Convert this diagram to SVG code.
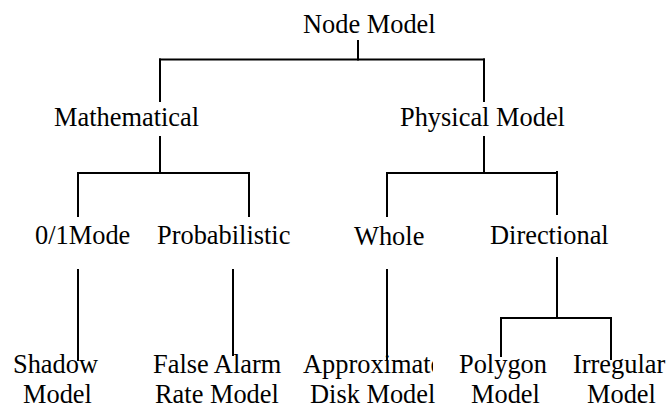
<svg xmlns="http://www.w3.org/2000/svg" width="667" height="408" viewBox="0 0 667 408">
<style>
.t{font-family:"Liberation Serif","Times New Roman",serif;font-size:26.4px;fill:#000}
.c line{stroke:#000;stroke-width:2;stroke-linecap:square}
</style>
<defs>
<clipPath id="clipA"><rect x="290" y="340" width="143" height="40"/></clipPath>
</defs>
<rect width="667" height="408" fill="#fff"/>
<g class="c" id="connectors">
<line x1="358" y1="41" x2="358" y2="59.5"/>
<line x1="160" y1="59.5" x2="484" y2="59.5"/>
<line x1="160" y1="59.5" x2="160" y2="101"/>
<line x1="484" y1="59.5" x2="484" y2="101"/>
<line x1="160" y1="137" x2="160" y2="173"/>
<line x1="78" y1="173" x2="249" y2="173"/>
<line x1="78" y1="173" x2="78" y2="216"/>
<line x1="249" y1="173" x2="249" y2="216"/>
<line x1="484" y1="137" x2="484" y2="173"/>
<line x1="387" y1="173" x2="557" y2="173"/>
<line x1="387" y1="173" x2="387" y2="216"/>
<line x1="557" y1="172" x2="557" y2="214"/>
<line x1="78" y1="270" x2="78" y2="360"/>
<line x1="233" y1="270" x2="233" y2="355"/>
<line x1="387" y1="270" x2="387" y2="360"/>
<line x1="557" y1="258" x2="557" y2="318"/>
<line x1="501" y1="318" x2="611" y2="318"/>
<line x1="501" y1="318" x2="501" y2="356"/>
<line x1="611" y1="318" x2="611" y2="359"/>
</g>
<g id="node-model"><text class="t" x="303" y="33">Node Model</text></g>
<g id="mathematical"><text class="t" x="54" y="126">Mathematical</text></g>
<g id="physical-model"><text class="t" x="400" y="126">Physical Model</text></g>
<g id="mode01"><text class="t" x="35" y="244">0/1Mode</text></g>
<g id="probabilistic"><text class="t" x="157" y="244">Probabilistic</text></g>
<g id="whole"><text class="t" x="354" y="245">Whole</text></g>
<g id="directional"><text class="t" x="490" y="244">Directional</text></g>
<g id="shadow-model"><text class="t" x="13" y="373">Shadow</text><text class="t" x="23" y="403">Model</text></g>
<g id="false-alarm"><text class="t" x="153" y="373">False Alarm</text><text class="t" x="155" y="403">Rate Model</text></g>
<g id="approx-disk"><text class="t" x="303" y="373" clip-path="url(#clipA)">Approximate</text><text class="t" x="310" y="403">Disk Model</text></g>
<g id="polygon-model"><text class="t" x="459" y="373">Polygon</text><text class="t" x="471" y="403">Model</text></g>
<g id="irregular-model"><text class="t" x="573" y="373">Irregular</text><text class="t" x="587" y="403">Model</text></g>
</svg>
